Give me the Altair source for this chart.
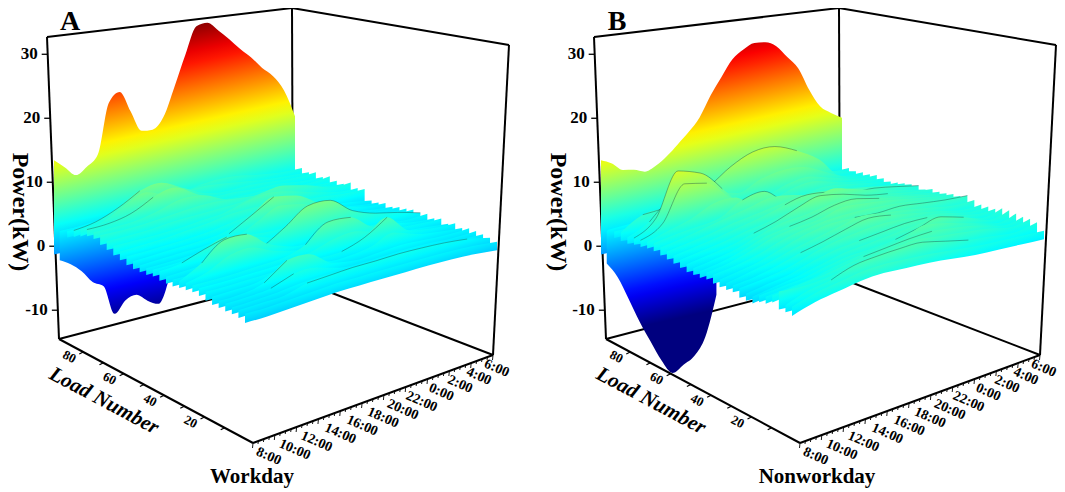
import altair as alt
import pandas as pd

# ---------- values (power in kW) ----------
HOURLY = list(range(23))
TWO_HOURLY = list(range(0, 24, 2))

BACK_A = [13.5,12.1,10.6,11.6,13.2,21.1,22.6,19.2,15.8,15.7,17.5,22.2,27.3,31.8,32.2,30.7,29.0,27.1,25.4,23.3,21.6,18.8,13.9]
BACK_B = [13.5,12.7,11.4,11.1,10.5,11.1,12.3,13.9,15.6,17.7,21.0,23.8,26.5,27.9,28.8,28.7,27.8,25.7,23.5,19.5,16.3,14.8,13.6]
TROUGH_A = [-1.5,-2.5,-4.0,-6.1,-7.2,-12.0,-10.3,-9.9,-11.3,-12.3,-8.4]
TROUGH_B = [-2.0,-4.5,-8.3,-12.3,-15.9,-19.4,-21.9,-21.1,-20.2,-17.6,-11.3]

ROWS_A = [
 [3.0,3.2,3.6,4.0,4.5,5.0,5.5,6.0,6.0,5.4,5.0,5.0],
 [3.5,3.6,4.0,4.5,5.0,5.5,6.0,5.8,5.4,5.0,4.8,4.6],
 [4.0,4.6,6.0,8.0,8.6,7.0,5.4,5.0,5.2,5.0,4.8,5.0],
 [4.5,5.0,6.8,8.2,7.0,5.8,5.2,5.2,5.0,5.0,4.6,4.5],
 [5.0,5.2,6.0,7.8,8.6,6.8,5.2,5.0,5.0,4.8,4.6,5.0],
 [5.0,5.1,5.4,6.2,7.2,7.0,5.6,5.2,5.0,4.8,4.6,4.6],
 [5.0,5.0,5.2,5.6,6.0,6.2,6.0,5.8,6.0,5.6,4.8,4.4],
 [4.5,4.6,4.8,5.2,5.4,5.6,5.8,6.6,7.0,6.2,5.0,5.0],
 [4.2,4.3,4.4,4.6,5.0,5.4,6.4,7.0,6.4,5.4,4.6,4.4],
 [3.8,4.0,4.2,4.6,5.0,5.6,5.8,5.6,5.2,5.0,4.6,4.6],
 [3.5,3.6,3.8,4.0,4.4,5.0,5.4,5.0,4.6,4.0,3.6,3.0],
 [3.2,3.4,3.6,3.8,4.2,5.4,7.0,6.6,5.0,4.0,3.4,3.0],
 [3.0,3.2,3.4,3.6,4.5,6.5,8.6,8.0,6.0,4.4,3.6,3.3],
 [3.0,3.1,3.3,3.6,4.4,6.0,7.6,7.0,5.2,4.0,3.4,3.0],
 [3.2,3.3,3.6,4.8,5.0,4.6,4.6,4.6,4.4,4.0,3.5,3.3],
 [3.4,3.8,5.0,6.0,5.2,4.2,4.0,4.8,5.0,4.4,3.6,3.4],
 [3.0,3.2,3.4,3.6,3.8,4.4,5.6,6.0,5.4,4.6,3.8,3.6],
 [3.0,3.0,3.2,3.4,4.5,6.6,9.0,9.0,6.5,5.2,4.4,3.4],
 [3.2,5.0,7.6,7.6,5.2,4.0,3.8,4.0,4.2,4.0,3.5,3.6],
 [3.3,4.2,5.8,6.0,4.6,3.8,3.6,4.0,4.6,4.2,3.5,3.2],
 [3.4,3.4,3.5,3.7,3.9,5.0,7.6,7.4,5.0,4.0,3.6,3.5],
 [3.4,3.4,3.5,3.6,3.8,4.4,5.4,5.6,4.6,3.8,3.4,3.0],
 [3.3,3.3,3.4,3.5,3.6,3.7,3.8,5.0,7.2,4.2,3.6,3.4],
 [3.0,3.1,3.3,4.4,4.6,3.6,3.5,4.0,5.2,4.0,3.4,3.0],
 [2.8,2.9,3.6,6.0,6.0,3.8,3.2,3.4,3.6,3.4,3.2,3.3],
 [2.8,2.9,3.2,4.4,4.4,3.4,3.2,3.3,3.4,3.3,3.1,3.2],
 [2.7,2.8,3.0,3.4,3.6,3.5,3.5,3.6,3.6,3.5,3.2,3.0],
 [2.7,2.8,2.9,3.8,4.0,4.2,4.2,4.3,4.2,4.0,3.6,2.8],
 [2.6,2.6,2.8,3.0,3.2,3.2,3.2,3.2,3.2,3.1,2.9,2.5],
]
ROWS_B = [
 [3.2,3.4,3.8,4.4,5.4,6.4,7.0,7.0,6.6,6.0,5.2,5.0],
 [3.4,3.6,4.2,5.0,6.4,8.0,9.0,9.2,8.4,7.0,5.6,4.8],
 [3.7,5.7,6.0,6.6,8.0,10.5,12.2,12.4,11.0,8.8,5.2,5.0],
 [3.4,5.0,8.0,9.0,7.5,6.6,8.0,8.8,8.6,7.0,5.4,5.0],
 [3.7,6.0,12.6,11.6,8.4,5.2,5.8,7.0,7.4,6.4,5.4,5.2],
 [3.8,5.6,11.0,10.4,7.6,5.0,5.6,6.8,7.0,6.0,5.4,5.0],
 [4.0,5.0,6.0,7.6,7.8,5.4,5.2,5.8,6.4,6.0,5.4,4.8],
 [4.2,4.8,5.2,5.8,7.8,8.4,6.0,5.4,6.0,5.8,5.2,5.0],
 [4.0,4.6,5.4,6.2,7.0,7.8,7.4,6.6,6.6,6.2,5.6,5.2],
 [3.8,4.4,5.0,5.8,6.4,7.0,7.6,7.6,7.0,6.6,6.0,5.4],
 [3.6,4.2,4.8,5.6,6.4,7.4,8.2,7.8,7.0,6.8,6.2,5.5],
 [3.4,4.0,4.6,5.4,6.0,6.8,8.0,8.8,7.8,6.8,6.0,5.2],
 [3.2,3.8,4.4,5.4,6.4,7.8,8.8,8.2,7.2,6.6,6.0,5.6],
 [3.0,3.6,4.4,5.6,6.6,7.0,7.6,7.8,7.2,6.6,6.0,5.5],
 [3.0,3.6,4.6,5.8,6.4,7.0,8.0,8.2,7.4,6.8,6.2,5.6],
 [3.2,3.8,4.8,6.0,6.6,7.0,8.0,7.8,7.4,6.8,6.2,5.8],
 [3.3,3.8,4.6,5.8,6.6,7.2,7.4,7.4,7.2,6.8,6.3,5.8],
 [3.0,3.6,4.4,5.6,6.6,7.2,7.2,7.0,7.2,6.8,6.4,6.2],
 [2.9,3.6,4.4,5.4,6.2,7.0,7.8,7.4,7.0,6.4,5.8,5.8],
 [3.0,3.4,4.2,5.2,6.0,7.0,7.8,7.4,6.8,6.2,5.4,5.4],
 [3.0,3.4,4.0,5.0,6.0,6.6,7.0,7.0,6.6,6.2,5.4,5.4],
 [2.6,3.2,3.8,4.8,5.6,6.0,6.4,6.8,6.8,6.2,5.4,5.4],
 [2.6,3.2,3.8,4.6,5.4,5.8,6.2,6.6,7.0,6.2,5.2,5.8],
 [3.2,3.6,4.0,4.8,5.4,5.6,6.0,6.8,7.6,6.6,5.2,5.8],
 [3.4,3.8,4.2,5.0,5.6,6.0,6.4,7.6,7.0,6.0,5.0,5.6],
 [4.0,4.4,4.8,5.4,6.0,6.4,6.8,7.0,6.6,6.0,5.0,5.4],
 [5.0,4.8,5.0,5.6,6.2,6.6,7.0,6.6,6.2,5.8,5.0,5.4],
 [3.4,4.6,5.2,6.4,6.8,7.0,7.0,6.2,5.4,5.0,4.6,5.2],
 [3.6,4.6,5.2,5.8,6.0,5.8,5.6,5.2,4.8,4.6,4.4,4.2],
]
# rows that carry a thin dark crest line: row number -> first and last column
CRESTS_A = {3:(0,3),5:(0,3),13:(4,6),16:(1,3),18:(3,11),19:(1,3),21:(5,7),23:(6,8),25:(2,3),26:(2,3),28:(3,10)}
CRESTS_B = {2:(1,4),3:(1,8),4:(1,3),5:(0,4),6:(0,3),8:(4,8),11:(5,11),13:(3,9),15:(4,8),18:(6,11),20:(3,7),22:(5,8),24:(6,9),26:(4,7),28:(2,8)}

POWER_TICKS = [30,20,10,0,-10]
LOAD_TICKS = [80,60,40,20]
LOAD_MINOR = [70,50,30,10]
TIME_LABELS = ["8:00","10:00","12:00","14:00","16:00","18:00","20:00","22:00","0:00","2:00","4:00","6:00"]
TITLES = {"A":"Workday","B":"Nonworkday"}

# ---------- projection of the box ----------
CORNERS = dict(L=(59,339),F=(253,443),R=(493,355),B=(293,278),Lt=(47,37),Bt=(292,8),Rt=(509,45))
BASE = dict(L=(54,248),B=(295,194),R=(497,258),F=(245,332))   # where 0 kW lies at the four surface corners
SCALE = dict(L=6.5,B=5.6,R=6.5,F=7.0)                         # px per kW at these corners
POWER_MIN, POWER_MAX = -14.5, 32.7
LOAD_MIN, LOAD_MAX = -4, 92
OFFSET_B = 547
C_MIN, C_MAX = -13.75, 32.25
LABEL_SHIFT = [4,5,5,7,7,6,4,1,2,-1,-4,-8]   # the time labels fan out with the perspective

def bil(d, u, v, k=None):
    g = (lambda key: d[key] if k is None else d[key][k])
    return g("L")*(1-u)*(1-v)+g("B")*(1-u)*v+g("R")*u*v+g("F")*u*(1-v)

def jet(p):
    t = max(0.0, min(1.0, (p-C_MIN)/(C_MAX-C_MIN)))
    ch = lambda c: int(255*max(0.0, min(1.0, 1.5-abs(4*t-c))))
    return "#%02x%02x%02x" % (ch(3), ch(2), ch(1))

def gradient(u, xs, tops, bots):
    x0, x1 = bil(BASE,u,0,0), bil(BASE,u,1,0)
    m = (bil(BASE,u,1,1)-bil(BASE,u,0,1))/(x1-x0)
    s = (bil(SCALE,u,0)+bil(SCALE,u,1))/2
    xmin, xmax = min(xs), max(xs)
    ymin, ymax = min(tops+bots), max(tops+bots)
    W, H = xmax-xmin, max(ymax-ymin, 1)
    b, c = m*W/s, -H/s
    a0 = 0.0 if b > 0 else 1.0
    c0 = 0.0 if c > 0 else 1.0
    L = (abs(b)+abs(c))/(b*b+c*c)
    xa, ya = xmin+W*a0, ymin+H*c0
    base_y = bil(BASE,u,0,1)+m*(xa-bil(BASE,u,0,0))
    pmin = (base_y-ya)/s
    pmax = pmin+abs(b)+abs(c)
    n = 24
    stops = [{"color":jet(pmin+(pmax-pmin)*i/n),"offset":i/n} for i in range(n+1)]
    return {"gradient":"linear","x1":a0,"y1":c0,"x2":a0+L*b,"y2":c0+L*c,"stops":stops}

X = alt.X("x:Q", scale=alt.Scale(domain=[8,1057], nice=False, zero=False), axis=None)
Y = alt.Y("y:Q", scale=alt.Scale(domain=[488,8], nice=False, zero=False), axis=None)

def ribbon(u, hours, top, bottom, dx):
    vs = [h/22 for h in hours]
    xs = [bil(BASE,u,v,0) for v in vs]
    tops = [bil(BASE,u,v,1)-p*bil(SCALE,u,v) for v,p in zip(vs,top)]
    bots = [bil(BASE,u,v,1)-p*bil(SCALE,u,v) for v,p in zip(vs,bottom)]
    df = pd.DataFrame({"x":[x+dx for x in xs],"y":tops,"y2":bots})
    return alt.Chart(df).mark_area(orient="vertical", interpolate="monotone",
                                   color=gradient(u,xs,tops,bots)).encode(x=X,y=Y,y2="y2:Q")

def crest(u, row, first, last, dx):
    hs = TWO_HOURLY[first:last+1]
    vs = [h/22 for h in hs]
    df = pd.DataFrame({"x":[bil(BASE,u,v,0)+dx for v in vs],
                       "y":[bil(BASE,u,v,1)-p*bil(SCALE,u,v) for v,p in zip(vs,row[first:last+1])]})
    return alt.Chart(df).mark_line(interpolate="monotone",color="#16403c",strokeWidth=0.6,opacity=0.65).encode(x=X,y=Y)

def rules(rows, width=2.0, color="black"):
    df = pd.DataFrame(rows, columns=["x","y","xe","ye"])
    return alt.Chart(df).mark_rule(color=color,strokeWidth=width).encode(x=X,y=Y,x2="xe:Q",y2="ye:Q")

def texts(rows, size, angle=0, align="center", italic=False, baseline="middle"):
    df = pd.DataFrame(rows, columns=["x","y","t"])
    return alt.Chart(df).mark_text(font="Liberation Serif",fontWeight="bold",fontSize=size,angle=angle,align=align,
                                   baseline=baseline,fontStyle="italic" if italic else "normal",color="black"
                                   ).encode(x=X,y=Y,text="t:N")

def frac(a,b,t):
    return (a[0]+(b[0]-a[0])*t, a[1]+(b[1]-a[1])*t)

def panel(name, back, trough, rows, crests, dx):
    c = CORNERS
    layers = []
    edges = [("Lt","Bt"),("Bt","Rt"),("Lt","L"),("Bt","B"),("Rt","R"),("L","B"),("B","R"),("L","F"),("F","R")]
    layers.append(rules([(c[a][0]+dx,c[a][1],c[b][0]+dx,c[b][1]) for a,b in edges]))
    tk, lb = [], []
    for p in POWER_TICKS:
        e = frac(c["L"],c["Lt"],(p-POWER_MIN)/(POWER_MAX-POWER_MIN))
        tk.append((e[0]+dx,e[1],e[0]+dx-6,e[1]))
        lb.append((e[0]+dx-10,e[1],str(p)))
    layers.append(rules(tk,1.3))
    layers.append(texts(lb,17,align="right"))
    tk, lb = [], []
    for n in LOAD_TICKS+LOAD_MINOR:
        e = frac(c["F"],c["L"],(n-LOAD_MIN)/(LOAD_MAX-LOAD_MIN))
        tk.append((e[0]+dx,e[1],e[0]+dx-4,e[1]+2))
        if n in LOAD_TICKS:
            lb.append((e[0]+dx-14,e[1]+5,str(n)))
    layers.append(rules(tk,1.2))
    layers.append(texts(lb,13,angle=27))
    tk, lb = [], []
    for i in range(45):
        e = frac(c["F"],c["R"],i/44)
        major = i % 4 == 0
        tk.append((e[0]+dx,e[1],e[0]+dx-0.5,e[1]+(5 if major else 3)))
        if major:
            lb.append((e[0]+dx+LABEL_SHIFT[i//4],e[1]+8,TIME_LABELS[i//4]))
    layers.append(rules(tk,0.9))
    layers.append(texts(lb,14,angle=24,align="left"))
    layers.append(ribbon(0.0,HOURLY,back,[-1.0]*len(back),dx))
    layers.append(ribbon(0.03,HOURLY[:len(trough)],[3.0]*len(trough),trough,dx))
    for i,row in enumerate(rows,1):
        u = i/len(rows)
        if i < len(rows):
            nxt = rows[i]
            bottom = [min(row[j], nxt[j], nxt[max(j-1,0)])-1.0 for j in range(len(row))]
        else:
            bottom = [p-1.3 for p in row]
        layers.append(ribbon(u,TWO_HOURLY,row,bottom,dx))
        if i in crests:
            layers.append(crest(u,row,crests[i][0],crests[i][1],dx))
    layers.append(texts([(558 if dx else 20,212,"Power(kW)")],24,angle=90))
    layers.append(texts([(104+dx,401,"Load Number")],21,angle=28,italic=True))
    layers.append(texts([(270+dx if dx else 252,477,TITLES[name])],21))
    layers.append(texts([(70+dx,30,name)],28,baseline="alphabetic"))
    return layers

chart = alt.layer(
    *panel("A",BACK_A,TROUGH_A,ROWS_A,CRESTS_A,0),
    *panel("B",BACK_B,TROUGH_B,ROWS_B,CRESTS_B,OFFSET_B)
).properties(width=1049,height=480,padding=0,autosize=alt.AutoSizeParams(type="none")).configure_view(stroke=None)

chart.save("out.html", embed_options={"renderer":"svg","actions":False})
